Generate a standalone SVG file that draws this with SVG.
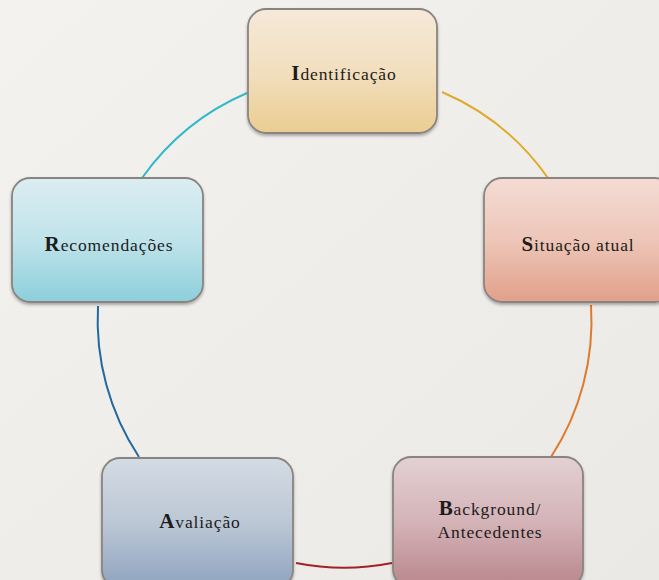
<svg xmlns="http://www.w3.org/2000/svg" width="659" height="580" viewBox="0 0 659 580">
<defs>
<linearGradient id="bg" x1="0" y1="0" x2="1" y2="1"><stop offset="0" stop-color="#f3f2ef"/><stop offset="1" stop-color="#eae9e6"/></linearGradient>
<linearGradient id="gI" x1="0" y1="0" x2="0" y2="1"><stop offset="0" stop-color="#f6e9d9"/><stop offset="0.5" stop-color="#f2dfbf"/><stop offset="1" stop-color="#ebcd92"/></linearGradient>
<linearGradient id="gS" x1="0" y1="0" x2="0" y2="1"><stop offset="0" stop-color="#f3dcd4"/><stop offset="0.5" stop-color="#edc6b8"/><stop offset="1" stop-color="#e1a08a"/></linearGradient>
<linearGradient id="gR" x1="0" y1="0" x2="0" y2="1"><stop offset="0" stop-color="#dbedf2"/><stop offset="0.5" stop-color="#c0e3ea"/><stop offset="1" stop-color="#8ccfdb"/></linearGradient>
<linearGradient id="gA" x1="0" y1="0" x2="0" y2="1"><stop offset="0" stop-color="#d3dbe4"/><stop offset="0.5" stop-color="#bcc7d5"/><stop offset="1" stop-color="#8ea3bf"/></linearGradient>
<linearGradient id="gB" x1="0" y1="0" x2="0" y2="1"><stop offset="0" stop-color="#e3d0d3"/><stop offset="0.5" stop-color="#d4b3b7"/><stop offset="1" stop-color="#b8868c"/></linearGradient>
<filter id="sh" x="-10%" y="-10%" width="120%" height="125%"><feDropShadow dx="0" dy="2" stdDeviation="1.5" flood-color="#000" flood-opacity="0.3"/></filter>
</defs>
<style>
.box{stroke:#8a8480;stroke-width:1.8;filter:url(#sh)}
.arc{fill:none;stroke-width:2}
text{font-family:"Liberation Serif","DejaVu Serif",serif;font-size:17.5px;fill:#1c1c1c;text-anchor:middle;letter-spacing:0.9px}
.f{font-weight:bold;font-size:21px}
</style>
<rect width="659" height="580" fill="url(#bg)"/>
<g id="connectors">
<path class="arc" stroke="#e0aa2c" d="M442 92 A249 249 0 0 1 548 178"/>
<path class="arc" stroke="#df7a2c" d="M591 305 A249 249 0 0 1 551 457"/>
<path class="arc" stroke="#a42024" d="M392 563 A249 249 0 0 1 296 563"/>
<path class="arc" stroke="#2369a0" d="M139 457 A249 249 0 0 1 98 306"/>
<path class="arc" stroke="#35b9c9" d="M142 178 A249 249 0 0 1 247 93"/>
</g>
<g id="n-identificacao"><rect class="box" x="248" y="9" width="189" height="124" rx="18" fill="url(#gI)"/><text x="344" y="80"><tspan class="f">I</tspan>dentificação</text></g>
<g id="n-situacao"><rect class="box" x="484" y="178" width="189" height="124" rx="18" fill="url(#gS)"/><text x="578" y="251"><tspan class="f">S</tspan>ituação atual</text></g>
<g id="n-recomendacoes"><rect class="box" x="12" y="178" width="191" height="124" rx="18" fill="url(#gR)"/><text x="109" y="251"><tspan class="f">R</tspan>ecomendações</text></g>
<g id="n-avaliacao"><rect class="box" x="102" y="458" width="191" height="130" rx="18" fill="url(#gA)"/><text x="200" y="528"><tspan class="f">A</tspan>valiação</text></g>
<g id="n-background"><rect class="box" x="393" y="457" width="190" height="130" rx="18" fill="url(#gB)"/><text x="490" y="515"><tspan class="f">B</tspan>ackground/</text><text x="490" y="538">Antecedentes</text></g>
</svg>
